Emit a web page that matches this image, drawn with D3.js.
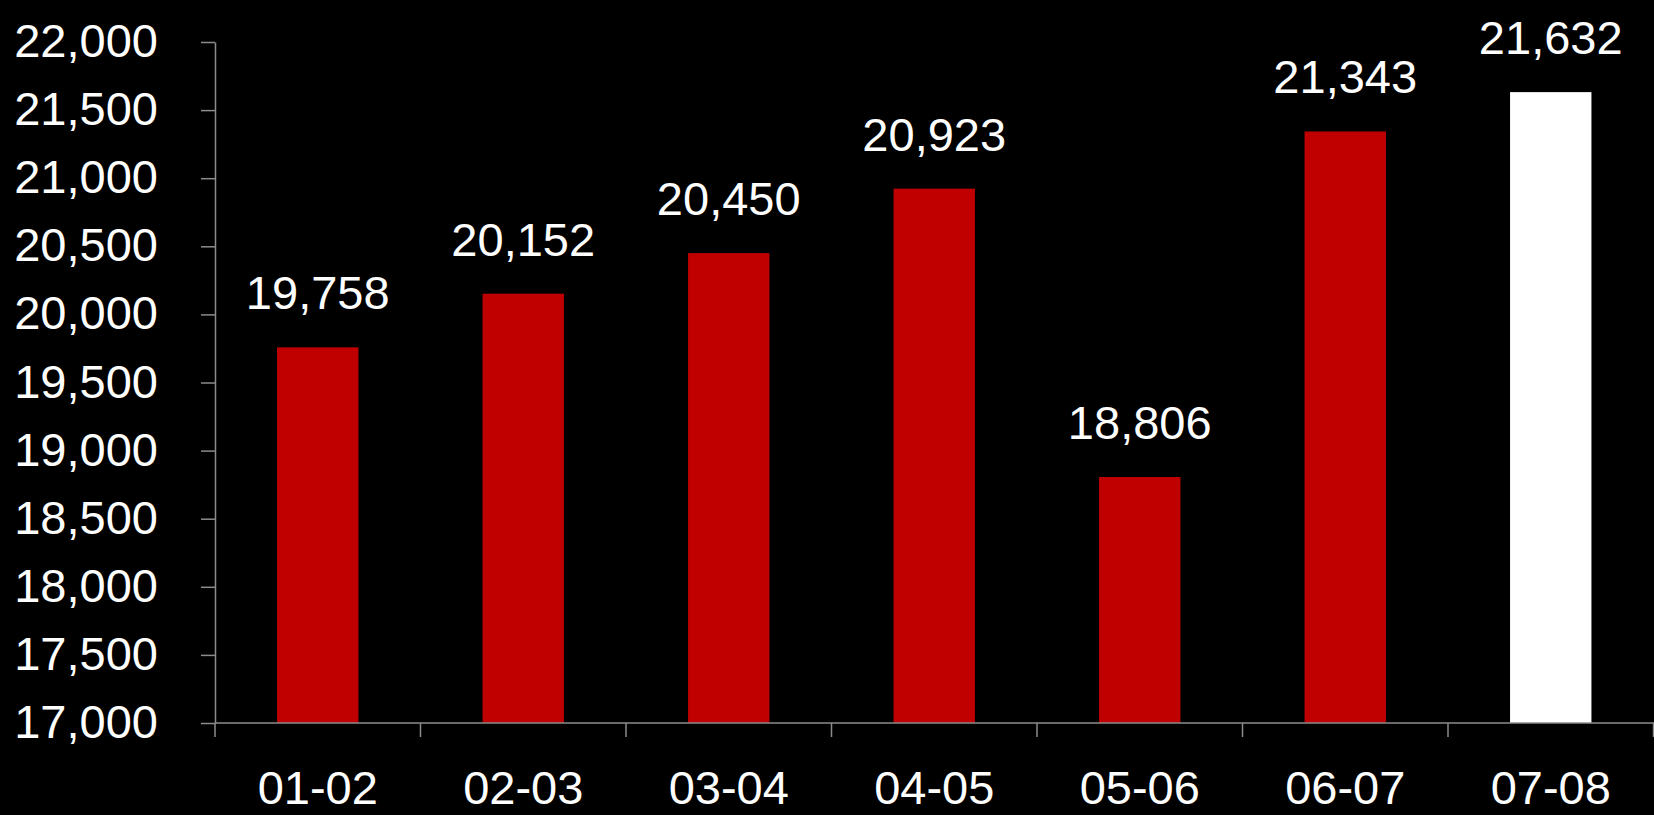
<!DOCTYPE html>
<html>
<head>
<meta charset="utf-8">
<script src="https://cdn.jsdelivr.net/npm/d3@7"></script>
<style>
  html, body { margin: 0; padding: 0; background: #000; }
  svg { display: block; }
  text { font-family: "Liberation Sans", Arial, sans-serif; fill: #fff; }
</style>
</head>
<body>
<svg id="chart" width="1654" height="815"></svg>
<script>
// Fiscal-year periods and totals
const categories = ["01-02", "02-03", "03-04", "04-05", "05-06", "06-07", "07-08"];
const values = [19758, 20152, 20450, 20923, 18806, 21343, 21632];
const yTicks = [17000, 17500, 18000, 18500, 19000, 19500, 20000, 20500, 21000, 21500, 22000];
const highlighted = "07-08";

const W = 1654, H = 815;
const margin = { left: 215, right: 0.5, top: 42, bottom: 92 };
const fontSize = 47;
const axisColor = "#8c8c8c";

const svg = d3.select("#chart");

const x = d3.scaleBand()
  .domain(categories)
  .range([margin.left, W - margin.right])
  .paddingInner(0.604)
  .paddingOuter(0.302);

const xBounds = d3.scaleBand()
  .domain(categories)
  .range([margin.left, W - margin.right])
  .padding(0);

const y = d3.scaleLinear()
  .domain([17000, 22000])
  .range([H - margin.bottom, margin.top]);

const fmt = d3.format(",");

// Bars
svg.append("g")
  .selectAll("rect")
  .data(categories)
  .join("rect")
  .attr("x", d => x(d))
  .attr("width", x.bandwidth())
  .attr("y", (d, i) => y(values[i]))
  .attr("height", (d, i) => y(17000) - y(values[i]))
  .attr("fill", d => d === highlighted ? "#ffffff" : "#c00000");

// Value labels above bars
svg.append("g")
  .selectAll("text")
  .data(categories)
  .join("text")
  .attr("x", d => x(d) + x.bandwidth() / 2)
  .attr("y", (d, i) => y(values[i]) - 38)
  .attr("text-anchor", "middle")
  .attr("font-size", fontSize)
  .text((d, i) => fmt(values[i]));

// Y axis
const yAxis = d3.axisLeft(y)
  .tickValues(yTicks)
  .tickFormat(fmt)
  .tickSize(14)
  .tickPadding(43)
  .tickSizeOuter(0);

const gy = svg.append("g")
  .attr("transform", `translate(${margin.left},0)`)
  .call(yAxis);
gy.select(".domain").attr("stroke", axisColor).attr("stroke-width", 1.5);
gy.selectAll(".tick line").attr("stroke", axisColor).attr("stroke-width", 1.5);
gy.selectAll(".tick text")
  .attr("font-size", fontSize)
  .attr("font-family", "Liberation Sans, Arial, sans-serif")
  .attr("fill", "#fff")
  .attr("dy", "0.31em");

// X axis: baseline, boundary ticks, category labels
const gx = svg.append("g");
gx.append("line")
  .attr("x1", margin.left)
  .attr("x2", W)
  .attr("y1", y(17000))
  .attr("y2", y(17000))
  .attr("stroke", axisColor)
  .attr("stroke-width", 1.5);

const bounds = categories.map(c => xBounds(c)).concat([xBounds(categories[categories.length - 1]) + xBounds.bandwidth()]);
gx.selectAll("line.bound")
  .data(bounds)
  .join("line")
  .attr("class", "bound")
  .attr("x1", d => d)
  .attr("x2", d => d)
  .attr("y1", y(17000))
  .attr("y2", y(17000) + 14)
  .attr("stroke", axisColor)
  .attr("stroke-width", 1.5);

gx.selectAll("text")
  .data(categories)
  .join("text")
  .attr("x", d => xBounds(d) + xBounds.bandwidth() / 2)
  .attr("y", 804)
  .attr("text-anchor", "middle")
  .attr("font-size", fontSize)
  .text(d => d);
</script>
</body>
</html>
